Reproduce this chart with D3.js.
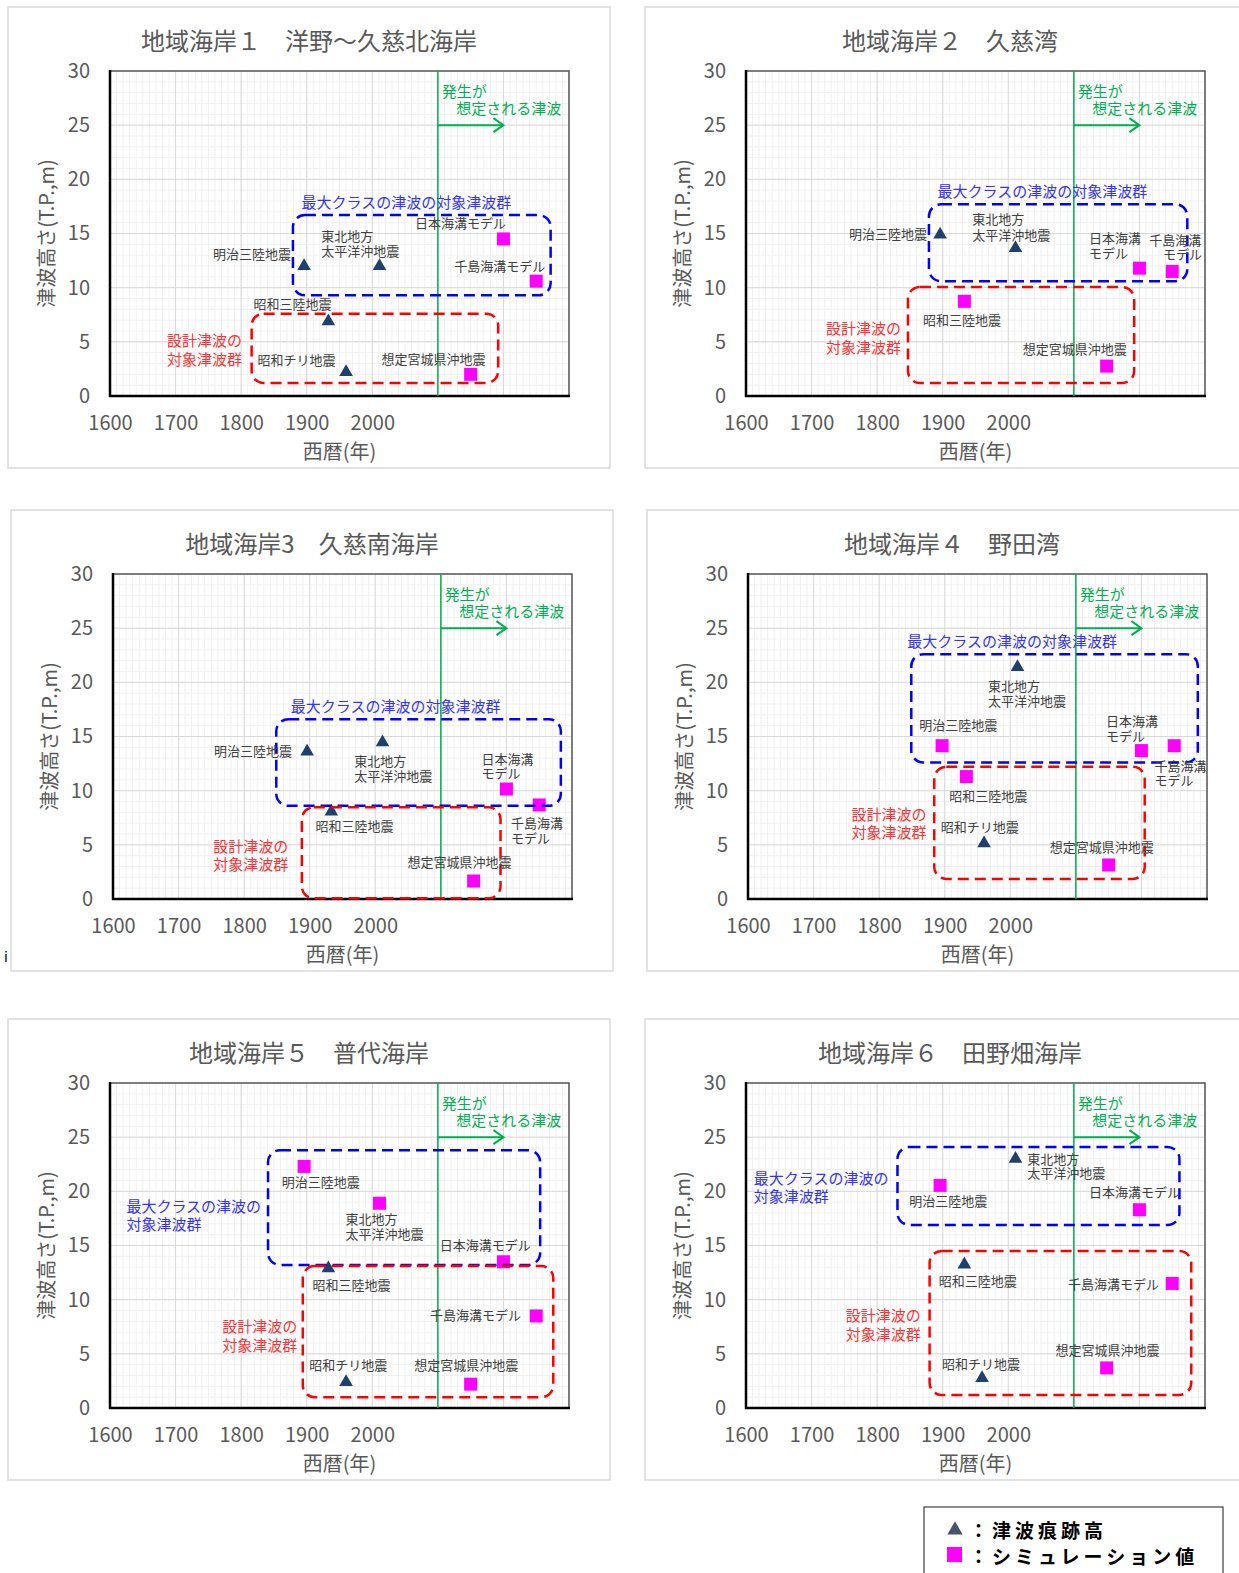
<!DOCTYPE html>
<html>
<head>
<meta charset="utf-8">
<script src="https://cdn.jsdelivr.net/npm/d3@7"></script>
<style>
  body { margin: 0; background: #fff; }
  svg { display: block; }
  text { font-family: "Noto Sans CJK JP", "Noto Sans", sans-serif; }
</style>
</head>
<body>
<svg id="chart" width="1239" height="1573"></svg>
<script>
// axis ticks
var xTicks = [1600, 1700, 1800, 1900, 2000];
var yTicks = [0, 5, 10, 15, 20, 25, 30];

var titles = [
  "地域海岸１　洋野～久慈北海岸",
  "地域海岸２　久慈湾",
  "地域海岸3　久慈南海岸",
  "地域海岸４　野田湾",
  "地域海岸５　普代海岸",
  "地域海岸６　田野畑海岸"
];

// 津波痕跡高 [year, height]
var trace1 = [[1896, 12.0], [2011, 12.0], [1933, 6.9], [1960, 2.2]];
var trace2 = [[1896, 14.9], [2011, 13.65]];
var trace3 = [[1896, 13.6], [2011, 14.46], [1933, 8.06]];
var trace4 = [[2011, 21.4], [1960, 5.14]];
var trace5 = [[1933, 12.9], [1960, 2.4]];
var trace6 = [[2011, 23.0], [1933, 13.25], [1960, 2.76]];

// シミュレーション値 [year, height]
var sim1 = [[2200, 14.5], [2250, 10.6], [2150, 2.0]];
var sim2 = [[1933, 8.74], [2200, 11.8], [2250, 11.5], [2150, 2.76]];
var sim3 = [[2200, 10.15], [2250, 8.68], [2150, 1.66]];
var sim4 = [[1896, 14.15], [1933, 11.3], [2200, 13.7], [2250, 14.15], [2150, 3.14]];
var sim5 = [[1896, 22.3], [2011, 18.9], [2200, 13.5], [2250, 8.5], [2150, 2.2]];
var sim6 = [[1896, 20.55], [2200, 18.3], [2250, 11.5], [2150, 3.7]];

// group boxes [x0, x1, y0, y1] in data units
var maxBoxes = [[1879, 2272, 9.3, 16.7], [1879, 2273, 10.6, 17.7], [1849, 2283, 8.6, 16.6],
                [1849, 2286, 12.6, 22.6], [1841, 2256, 13.2, 23.8], [1831, 2261, 16.9, 24.1]];
var designBoxes = [[1816, 2192, 1.2, 7.6], [1847, 2192, 1.2, 10.06], [1888, 2191, 0.06, 8.46],
                   [1884, 2205, 1.85, 12.2], [1894, 2276, 1.0, 13.1], [1880, 2279, 1.2, 14.5]];

// event labels [text, year, height, anchor]
var labels1 = [["明治三陸地震", 1876, 13.2, "end"], ["東北地方", 1922, 14.8], ["太平洋沖地震", 1922, 13.4],
  ["昭和三陸地震", 1819, 8.5], ["昭和チリ地震", 1825, 3.4], ["想定宮城県沖地震", 2014, 3.5],
  ["日本海溝モデル", 2065, 16.0], ["千島海溝モデル", 2125, 12.05]];
var labels2 = [["明治三陸地震", 1876, 15.0, "end"], ["東北地方", 1945, 16.35], ["太平洋沖地震", 1945, 14.94],
  ["日本海溝", 2123, 14.66], ["モデル", 2123, 13.28], ["千島海溝", 2215, 14.48], ["モデル", 2236, 13.13],
  ["昭和三陸地震", 1870, 7.1], ["想定宮城県沖地震", 2022, 4.4]];
var labels3 = [["明治三陸地震", 1873, 13.7, "end"], ["東北地方", 1968, 12.77], ["太平洋沖地震", 1968, 11.4],
  ["日本海溝", 2162, 13.0], ["モデル", 2162, 11.7], ["千島海溝", 2207, 7.05], ["モデル", 2207, 5.66],
  ["昭和三陸地震", 1909, 6.8], ["想定宮城県沖地震", 2049, 3.45]];
var labels4 = [["東北地方", 1966, 19.7], ["太平洋沖地震", 1966, 18.3], ["明治三陸地震", 1861, 16.15],
  ["日本海溝", 2146, 16.46], ["モデル", 2146, 15.08], ["千島海溝", 2220, 12.3], ["モデル", 2220, 11.0],
  ["昭和三陸地震", 1907, 9.6], ["昭和チリ地震", 1894, 6.68], ["想定宮城県沖地震", 2060, 4.83]];
var labels5 = [["明治三陸地震", 1862, 20.9], ["東北地方", 1959, 17.5], ["太平洋沖地震", 1959, 16.1],
  ["日本海溝モデル", 2103, 15.1], ["昭和三陸地震", 1909, 11.4], ["千島海溝モデル", 2088, 8.6],
  ["昭和チリ地震", 1904, 4.0], ["想定宮城県沖地震", 2064, 4.0]];
var labels6 = [["東北地方", 2029, 23.07], ["太平洋沖地震", 2029, 21.7], ["明治三陸地震", 1849, 19.2],
  ["日本海溝モデル", 2123, 20.0], ["昭和三陸地震", 1894, 11.8], ["千島海溝モデル", 2091, 11.5],
  ["昭和チリ地震", 1899, 4.1], ["想定宮城県沖地震", 2072, 5.4]];

// group captions [text, year, height]
var maxLabels = [
  [["最大クラスの津波の対象津波群", 1892, 18.0]],
  [["最大クラスの津波の対象津波群", 1892, 18.96]],
  [["最大クラスの津波の対象津波群", 1871, 17.85]],
  [["最大クラスの津波の対象津波群", 1843, 23.9]],
  [["最大クラスの津波の", 1625, 18.7], ["対象津波群", 1625, 17.0]],
  [["最大クラスの津波の", 1612, 21.25], ["対象津波群", 1612, 19.6]]
];
var designLabels = [
  [["設計津波の", 1687, 5.2], ["対象津波群", 1687, 3.5]],
  [["設計津波の", 1722, 6.35], ["対象津波群", 1722, 4.6]],
  [["設計津波の", 1753, 4.98], ["対象津波群", 1753, 3.3]],
  [["設計津波の", 1758, 7.9], ["対象津波群", 1758, 6.2]],
  [["設計津波の", 1771, 7.6], ["対象津波群", 1771, 5.9]],
  [["設計津波の", 1752, 8.6], ["対象津波群", 1752, 6.9]]
];
var futureYear = 2100, arrowEnd = 2200, arrowH = 25;
var futureText = [["発生が", 2106, 28.2], ["想定される津波", 2128, 26.6]];

var legendItems = ["：津波痕跡高", "：シミュレーション値"];

var traces = [trace1, trace2, trace3, trace4, trace5, trace6];
var sims = [sim1, sim2, sim3, sim4, sim5, sim6];
var labelSets = [labels1, labels2, labels3, labels4, labels5, labels6];

// layout
var W = 459, H = 325;
var plotLeft = [110, 746, 113, 748, 110, 746];
var plotTop = [71, 71, 574, 574, 1083, 1083];

var svg = d3.select("#chart");

for (var p = 0; p < 6; p++) {
  drawPanel(p);
}

function drawPanel(p) {
  var L = plotLeft[p], T = plotTop[p];
  var right = p % 2 == 1;

  // outer chart frame
  svg.append("rect")
    .attr("x", L - (right ? 101 : 102)).attr("y", T - 64)
    .attr("width", right ? 620 : 602).attr("height", 461)
    .attr("fill", "none").attr("stroke", "#d9d9d9").attr("stroke-width", 1.5);

  svg.append("text")
    .attr("x", L + (right ? 204 : 199)).attr("y", T - 32)
    .attr("text-anchor", "middle").attr("dominant-baseline", "central")
    .attr("font-size", 24).attr("fill", "#595959")
    .text(titles[p]);

  var x = d3.scaleLinear().domain([1600, 2300]).range([0, W]);
  var y = d3.scaleLinear().domain([0, 30]).range([H, 0]);

  var g = svg.append("g").attr("transform", "translate(" + L + "," + T + ")");

  g.append("rect").attr("width", W).attr("height", H).attr("fill", "#fff");

  // minor grid
  g.append("g").selectAll("line").data(d3.range(1600, 2301, 10))
    .enter().append("line")
    .attr("x1", function(d) { return x(d); }).attr("x2", function(d) { return x(d); })
    .attr("y1", 0).attr("y2", H)
    .attr("stroke", "#f0f0f0").attr("stroke-width", 1);
  g.append("g").selectAll("line").data(d3.range(0, 31, 1))
    .enter().append("line")
    .attr("y1", function(d) { return y(d); }).attr("y2", function(d) { return y(d); })
    .attr("x1", 0).attr("x2", W)
    .attr("stroke", "#f0f0f0").attr("stroke-width", 1);
  // major grid
  g.append("g").selectAll("line").data(d3.range(1600, 2301, 100))
    .enter().append("line")
    .attr("x1", function(d) { return x(d); }).attr("x2", function(d) { return x(d); })
    .attr("y1", 0).attr("y2", H)
    .attr("stroke", "#d9d9d9").attr("stroke-width", 1);
  g.append("g").selectAll("line").data(yTicks)
    .enter().append("line")
    .attr("y1", function(d) { return y(d); }).attr("y2", function(d) { return y(d); })
    .attr("x1", 0).attr("x2", W)
    .attr("stroke", "#d9d9d9").attr("stroke-width", 1);

  g.append("rect").attr("width", W).attr("height", H)
    .attr("fill", "none").attr("stroke", "#595959").attr("stroke-width", 1.5);

  // axes
  var xa = g.append("g").attr("transform", "translate(0," + H + ")")
    .call(d3.axisBottom(x).tickValues(xTicks).tickSize(0).tickPadding(20).tickFormat(d3.format("d")));
  var ya = g.append("g")
    .call(d3.axisLeft(y).tickValues(yTicks).tickSize(0).tickPadding(20));
  [xa, ya].forEach(function(a) {
    a.select(".domain").remove();
    a.selectAll("text").attr("font-size", 20).attr("fill", "#595959")
      .attr("font-family", "'Noto Sans CJK JP', sans-serif");
  });
  g.append("line").attr("x1", 0).attr("x2", 0).attr("y1", -1).attr("y2", H + 1)
    .attr("stroke", "#000").attr("stroke-width", 2.5);
  g.append("line").attr("x1", -1).attr("x2", W + 1).attr("y1", H).attr("y2", H)
    .attr("stroke", "#000").attr("stroke-width", 2.5);

  g.append("text")
    .attr("x", W / 2).attr("y", H + 54)
    .attr("text-anchor", "middle").attr("dominant-baseline", "central")
    .attr("font-size", 20).attr("fill", "#595959")
    .text("西暦(年)");
  g.append("text")
    .attr("transform", "translate(-65," + (H / 2) + ") rotate(-90)")
    .attr("text-anchor", "middle").attr("dominant-baseline", "central")
    .attr("font-size", 20).attr("fill", "#595959")
    .text("津波高さ(T.P.,m)");

  // future tsunami line + arrow
  var green = "#00b050";
  g.append("line")
    .attr("x1", x(futureYear)).attr("x2", x(futureYear)).attr("y1", 0).attr("y2", H)
    .attr("stroke", green).attr("stroke-width", 1.5);
  g.append("line")
    .attr("x1", x(futureYear)).attr("x2", x(arrowEnd)).attr("y1", y(arrowH)).attr("y2", y(arrowH))
    .attr("stroke", green).attr("stroke-width", 2);
  g.append("path")
    .attr("d", "M" + (x(arrowEnd) - 10) + "," + (y(arrowH) - 7) + "L" + x(arrowEnd) + "," + y(arrowH) +
      "L" + (x(arrowEnd) - 10) + "," + (y(arrowH) + 7))
    .attr("fill", "none").attr("stroke", green).attr("stroke-width", 2);
  g.selectAll(".ft").data(futureText).enter().append("text")
    .attr("x", function(d) { return x(d[1]); }).attr("y", function(d) { return y(d[2]); })
    .attr("dominant-baseline", "central").attr("font-size", 15).attr("fill", green)
    .text(function(d) { return d[0]; });

  // markers
  g.selectAll(".tri").data(traces[p]).enter().append("path")
    .attr("transform", function(d) { return "translate(" + x(d[0]) + "," + y(d[1]) + ")"; })
    .attr("d", d3.symbol(d3.symbolTriangle, 80))
    .attr("fill", "#1f3f6e");
  g.selectAll(".sq").data(sims[p]).enter().append("rect")
    .attr("x", function(d) { return x(d[0]) - 6.5; }).attr("y", function(d) { return y(d[1]) - 6.5; })
    .attr("width", 13).attr("height", 13)
    .attr("fill", "#ff00ff");

  // dashed group boxes
  [[maxBoxes[p], "#0000ff"], [designBoxes[p], "#ff0000"]].forEach(function(b) {
    var r = b[0];
    g.append("rect")
      .attr("x", x(r[0])).attr("y", y(r[3]))
      .attr("width", x(r[1]) - x(r[0])).attr("height", y(r[2]) - y(r[3]))
      .attr("rx", 12).attr("ry", 12)
      .attr("fill", "none").attr("stroke", b[1]).attr("stroke-width", 2.5)
      .attr("stroke-dasharray", "11,6");
  });

  // labels
  g.selectAll(".lb").data(labelSets[p]).enter().append("text")
    .attr("x", function(d) { return x(d[1]); }).attr("y", function(d) { return y(d[2]); })
    .attr("text-anchor", function(d) { return d[3] || "start"; })
    .attr("dominant-baseline", "central").attr("font-size", 13).attr("fill", "#404040")
    .text(function(d) { return d[0]; });
  g.selectAll(".ml").data(maxLabels[p]).enter().append("text")
    .attr("x", function(d) { return x(d[1]); }).attr("y", function(d) { return y(d[2]); })
    .attr("dominant-baseline", "central").attr("font-size", 15).attr("fill", "#3333ff")
    .text(function(d) { return d[0]; });
  g.selectAll(".dl").data(designLabels[p]).enter().append("text")
    .attr("x", function(d) { return x(d[1]); }).attr("y", function(d) { return y(d[2]); })
    .attr("dominant-baseline", "central").attr("font-size", 15).attr("fill", "#ff3333")
    .text(function(d) { return d[0]; });
}

// stray mark in the source image
svg.append("text").attr("x", 4).attr("y", 962)
  .attr("font-family", "'DejaVu Serif', serif").attr("font-size", 14).attr("fill", "#000")
  .text("i");

// legend
var lg = svg.append("g").attr("transform", "translate(924,1507)");
lg.append("rect").attr("width", 299).attr("height", 80)
  .attr("fill", "#fff").attr("stroke", "#404040").attr("stroke-width", 1.2);
lg.append("path").attr("transform", "translate(31,23)")
  .attr("d", d3.symbol(d3.symbolTriangle, 100)).attr("fill", "#44546a");
lg.append("rect").attr("x", 23).attr("y", 40).attr("width", 15).attr("height", 15).attr("fill", "#ff00ff");
lg.selectAll(".lt").data(legendItems).enter().append("text")
  .attr("x", 45).attr("y", function(d, i) { return 22 + i * 26; })
  .attr("dominant-baseline", "central")
  .attr("font-size", 19).attr("font-weight", "bold").attr("letter-spacing", 4)
  .attr("fill", "#000")
  .text(function(d) { return d; });
</script>
</body>
</html>
